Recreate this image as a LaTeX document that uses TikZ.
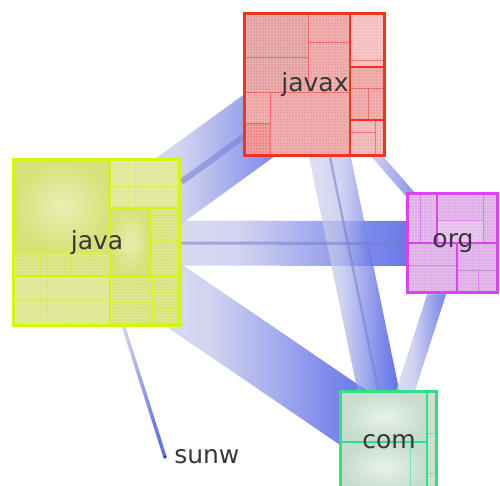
\documentclass[tikz,border=0pt]{standalone}
\usepackage{fontspec}
\setmainfont{DejaVu Sans}
\usetikzlibrary{positioning,calc,backgrounds}

\definecolor{bandpale}{RGB}{218,218,236}
\definecolor{bandblue}{RGB}{40,62,224}
\colorlet{bandmidA}{bandpale!85!bandblue}
\colorlet{bandmidB}{bandpale!50!bandblue}
\colorlet{bandmidC}{bandpale!20!bandblue}
\definecolor{linkgray}{RGB}{118,126,210}
\definecolor{labelgray}{RGB}{55,55,55}
\definecolor{javaline}{RGB}{212,246,10}
\definecolor{javafill}{RGB}{214,226,120}
\definecolor{javaxline}{RGB}{236,52,32}
\definecolor{javaxfill}{RGB}{236,160,160}
\definecolor{orgline}{RGB}{214,70,236}
\definecolor{orgfill}{RGB}{222,172,232}
\definecolor{comline}{RGB}{46,226,132}
\definecolor{comfill}{RGB}{198,220,206}

% pale near the source, blue near the target (the path covers 25bp--75bp)
\pgfdeclarehorizontalshading{bandfade}{100bp}{color(0bp)=(bandpale); color(25bp)=(bandpale);
  color(45bp)=(bandmidA); color(55bp)=(bandmidB); color(63bp)=(bandmidC);
  color(70bp)=(bandblue); color(100bp)=(bandblue)}

\pgfdeclarelayer{bands}
\pgfdeclarelayer{cells}
\pgfsetlayers{bands,cells,main}

% dependency band from the centre of one package to the centre of another
\newcommand{\depband}[3]{%
  \path let \p1=(#1.center), \p2=(#2.center) in
    \pgfextra{%
      \pgfmathparse{atan2((\y2)-(\y1),(\x2)-(\x1))}\xdef\bandang{\pgfmathresult}%
      \pgfmathparse{veclen((\x2)-(\x1),(\y2)-(\y1))}\xdef\bandlen{\pgfmathresult}%
      \xdef\bandx{\x1}\xdef\bandy{\y1}};
  \begin{scope}[shift={(\bandx,\bandy)}, rotate=\bandang]
    \shade[shading=bandfade, fill opacity=0.72]
      (0pt,{-#3*0.25pt}) rectangle (\bandlen pt,{#3*0.25pt});
  \end{scope}}

\begin{document}
\begin{tikzpicture}[
    x=0.5pt, y=-0.5pt,
    pkg/.style={
        draw,
        line width=1.5pt,
        inner sep=0pt,
        font=\fontsize{12.5pt}{15pt}\selectfont,
        text=labelgray
    },
    split/.style={line width=1pt},
    subsplit/.style={line width=0.4pt, draw opacity=0.5},
    mesh/.style={white, line width=0.15pt, draw opacity=0.2, step=1.5pt},
    thinlink/.style={draw=linkgray, draw opacity=0.55}
]
    \useasboundingbox (0,0) rectangle (500,486);

    % Pacotes (bordas e nomes)
    \node[pkg, draw=javaxline, minimum width=70pt, minimum height=71pt] (javax) at (315,85) {javax};
    \node[pkg, draw=javaline, minimum width=83pt, minimum height=83pt] (java) at (97,243) {java};
    \node[pkg, draw=orgline, minimum width=45pt, minimum height=49.5pt] (org) at (453,243.5) {org};
    \node[pkg, draw=comline, minimum width=48pt, minimum height=50pt] (com) at (389,442) {com};

    % sunw: apenas um ponto com o nome
    \node[circle, fill=bandblue, inner sep=0pt, minimum size=1.8pt] (sunw) at (165,457) {};
    \node[right=0pt of sunw, font=\fontsize{12.5pt}{15pt}\selectfont, text=labelgray] (sunwname) {sunw};

    % Faixas de dependencia
    \begin{pgfonlayer}{bands}
        \depband{java}{javax}{68}
        \depband{java}{org}{45}
        \depband{java}{com}{60}
        \depband{javax}{com}{41}
        \depband{javax}{org}{9}
        \depband{org}{com}{18}
        \depband{java}{sunw}{3.5}
        \draw[thinlink, line width=3pt] (java) -- (javax);
        \draw[thinlink, line width=1.5pt] (java) -- (org);
        \draw[thinlink, line width=1.2pt] (javax) -- (com);
    \end{pgfonlayer}

    \begin{pgfonlayer}{cells}
        % javax
        \fill[javaxfill] (javax.north west) rectangle (javax.south east);
        \fill[javaxfill!92!gray] (245,14) rectangle (308,92);
        \fill[javaxfill!85!red] (245,123) rectangle (270,156);
        \fill[javaxfill!70!white] (350,14) rectangle (385,67);
        \fill[javaxfill!82!white] (350,120) rectangle (385,156);
        \draw[mesh] (javax.north west) grid (javax.south east);
        \draw[split, javaxline] (350,14) -- (350,156) (350,67) -- (385,67) (350,120) -- (385,120);
        \draw[subsplit, javaxline] (308,14) -- (308,92) (245,57) -- (308,57) (308,42) -- (350,42)
            (245,92) -- (350,92) (245,123) -- (270,123) (270,92) -- (270,156)
            (350,60) -- (385,60) (350,88) -- (385,88) (368,88) -- (368,120)
            (375,120) -- (375,156) (350,132) -- (375,132);

        % java
        \fill[javafill] (java.north west) rectangle (java.south east);
        \fill[javafill!80!white] (110,160) rectangle (180,208);
        \fill[javafill!85!white] (14,276) rectangle (110,326);
        \draw[mesh] (java.north west) grid (java.south east);
        \shade[inner color=javafill!55!white, outer color=javafill] (14,160) rectangle (110,252);
        \shade[inner color=javafill!60!white, outer color=javafill] (110,208) rectangle (150,276);
        \draw[split, javaline] (110,160) -- (110,326) (14,276) -- (180,276) (110,208) -- (180,208)
            (150,208) -- (150,276) (152,276) -- (152,326);
        \draw[subsplit, javaline] (14,252) -- (110,252) (47,276) -- (47,326) (14,300) -- (110,300)
            (110,302) -- (152,302) (152,292) -- (180,292) (152,308) -- (180,308)
            (168,308) -- (168,326) (135,160) -- (135,208) (110,186) -- (180,186)
            (150,240) -- (180,240) (110,255) -- (150,255) (40,252) -- (40,276) (70,252) -- (70,276);

        % org
        \fill[orgfill] (org.north west) rectangle (org.south east);
        \fill[orgfill!80!white] (437,220) rectangle (483,243);
        \draw[mesh] (org.north west) grid (org.south east);
        \draw[split, orgline] (408,243) -- (498,243) (437,194) -- (437,243) (457,243) -- (457,293);
        \draw[subsplit, orgline] (437,220) -- (483,220) (483,194) -- (483,243) (457,270) -- (498,270)
            (478,270) -- (478,293) (408,265) -- (457,265) (420,194) -- (420,243);

        % com
        \fill[comfill] (com.north west) rectangle (com.south east);
        \draw[mesh] (com.north west) grid (com.south east);
        \shade[inner color=comfill!40!white, outer color=comfill] (341,392) rectangle (427,442);
        \shade[inner color=comfill!40!white, outer color=comfill] (341,442) rectangle (427,492);
        \draw[split, comline] (341,442) -- (427,442) (427,392) -- (427,492);
        \draw[subsplit, comline] (427,433) -- (437,433) (427,473) -- (437,473) (410,442) -- (410,492);
    \end{pgfonlayer}
\end{tikzpicture}
\end{document}
